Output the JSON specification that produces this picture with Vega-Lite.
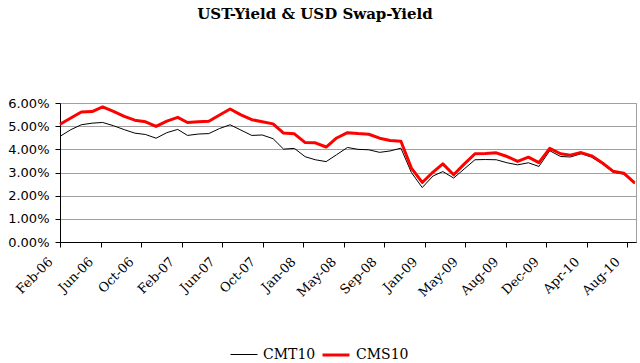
{
  "$schema": "https://vega.github.io/schema/vega-lite/v6.json",
  "width": 576,
  "height": 139,
  "autosize": "none",
  "padding": {"left": 60, "top": 103, "right": 4, "bottom": 121},
  "background": "white",
  "config": {"view": {"stroke": "#a0a0a0", "strokeWidth": 1}},
  "title": {"text": "UST-Yield & USD Swap-Yield", "font": "DejaVu Serif", "fontWeight": "bold", "fontSize": 15, "color": "black", "anchor": "middle", "frame": "group", "baseline": "alphabetic", "offset": 63, "dx": -33},
  "data": {"values": [
    {"date": "2006-02-28", "CMT10": 4.56, "CMS10": 5.08},
    {"date": "2006-03-31", "CMT10": 4.85, "CMS10": 5.35},
    {"date": "2006-04-30", "CMT10": 5.06, "CMS10": 5.61},
    {"date": "2006-05-31", "CMT10": 5.13, "CMS10": 5.63},
    {"date": "2006-06-30", "CMT10": 5.16, "CMS10": 5.83},
    {"date": "2006-07-31", "CMT10": 5.02, "CMS10": 5.64},
    {"date": "2006-08-31", "CMT10": 4.85, "CMS10": 5.42},
    {"date": "2006-09-30", "CMT10": 4.70, "CMS10": 5.26},
    {"date": "2006-10-31", "CMT10": 4.64, "CMS10": 5.19},
    {"date": "2006-11-30", "CMT10": 4.48, "CMS10": 4.99},
    {"date": "2006-12-31", "CMT10": 4.72, "CMS10": 5.22},
    {"date": "2007-01-31", "CMT10": 4.86, "CMS10": 5.38},
    {"date": "2007-02-28", "CMT10": 4.60, "CMS10": 5.16},
    {"date": "2007-03-31", "CMT10": 4.66, "CMS10": 5.19},
    {"date": "2007-04-30", "CMT10": 4.68, "CMS10": 5.21},
    {"date": "2007-05-31", "CMT10": 4.90, "CMS10": 5.48},
    {"date": "2007-06-30", "CMT10": 5.06, "CMS10": 5.74},
    {"date": "2007-07-31", "CMT10": 4.83, "CMS10": 5.49},
    {"date": "2007-08-31", "CMT10": 4.60, "CMS10": 5.28},
    {"date": "2007-09-30", "CMT10": 4.62, "CMS10": 5.19},
    {"date": "2007-10-31", "CMT10": 4.46, "CMS10": 5.10},
    {"date": "2007-11-30", "CMT10": 4.01, "CMS10": 4.70},
    {"date": "2007-12-31", "CMT10": 4.04, "CMS10": 4.67},
    {"date": "2008-01-31", "CMT10": 3.68, "CMS10": 4.29},
    {"date": "2008-02-29", "CMT10": 3.55, "CMS10": 4.28},
    {"date": "2008-03-31", "CMT10": 3.47, "CMS10": 4.10},
    {"date": "2008-04-30", "CMT10": 3.77, "CMS10": 4.49},
    {"date": "2008-05-31", "CMT10": 4.08, "CMS10": 4.72},
    {"date": "2008-06-30", "CMT10": 4.00, "CMS10": 4.68},
    {"date": "2008-07-31", "CMT10": 3.98, "CMS10": 4.65},
    {"date": "2008-08-31", "CMT10": 3.87, "CMS10": 4.48},
    {"date": "2008-09-30", "CMT10": 3.93, "CMS10": 4.38},
    {"date": "2008-10-31", "CMT10": 4.05, "CMS10": 4.35},
    {"date": "2008-11-30", "CMT10": 3.00, "CMS10": 3.19},
    {"date": "2008-12-31", "CMT10": 2.35, "CMS10": 2.57},
    {"date": "2009-01-31", "CMT10": 2.85, "CMS10": 3.02},
    {"date": "2009-02-28", "CMT10": 3.04, "CMS10": 3.37},
    {"date": "2009-03-31", "CMT10": 2.76, "CMS10": 2.90},
    {"date": "2009-04-30", "CMT10": 3.15, "CMS10": 3.36},
    {"date": "2009-05-31", "CMT10": 3.55, "CMS10": 3.81},
    {"date": "2009-06-30", "CMT10": 3.56, "CMS10": 3.82},
    {"date": "2009-07-31", "CMT10": 3.55, "CMS10": 3.85},
    {"date": "2009-08-31", "CMT10": 3.42, "CMS10": 3.69},
    {"date": "2009-09-30", "CMT10": 3.33, "CMS10": 3.48},
    {"date": "2009-10-31", "CMT10": 3.42, "CMS10": 3.66},
    {"date": "2009-11-30", "CMT10": 3.26, "CMS10": 3.43},
    {"date": "2009-12-31", "CMT10": 3.94, "CMS10": 4.04},
    {"date": "2010-01-31", "CMT10": 3.69, "CMS10": 3.81},
    {"date": "2010-02-28", "CMT10": 3.67, "CMS10": 3.75},
    {"date": "2010-03-31", "CMT10": 3.81, "CMS10": 3.86},
    {"date": "2010-04-30", "CMT10": 3.66, "CMS10": 3.72},
    {"date": "2010-05-31", "CMT10": 3.37, "CMS10": 3.41},
    {"date": "2010-06-30", "CMT10": 3.01, "CMS10": 3.06},
    {"date": "2010-07-31", "CMT10": 2.93, "CMS10": 2.97},
    {"date": "2010-08-31", "CMT10": 2.52, "CMS10": 2.55}
  ]},
  "transform": [{"fold": ["CMT10", "CMS10"], "as": ["series", "value"]}],
  "mark": {"type": "line", "interpolate": "linear", "strokeJoin": "round"},
  "encoding": {
    "x": {
      "field": "date", "type": "temporal",
      "scale": {"type": "utc", "domain": [{"year": 2006, "month": 2, "date": 28, "utc": true}, {"year": 2010, "month": 9, "date": 4, "utc": true}]},
      "axis": {
        "title": null, "format": "%b-%y", "grid": false,
        "values": [
          {"year": 2006, "month": 2, "date": 28, "utc": true},
          {"year": 2006, "month": 6, "date": 24, "utc": true},
          {"year": 2006, "month": 10, "date": 18, "utc": true},
          {"year": 2007, "month": 2, "date": 11, "utc": true},
          {"year": 2007, "month": 6, "date": 7, "utc": true},
          {"year": 2007, "month": 10, "date": 1, "utc": true},
          {"year": 2008, "month": 1, "date": 25, "utc": true},
          {"year": 2008, "month": 5, "date": 20, "utc": true},
          {"year": 2008, "month": 9, "date": 13, "utc": true},
          {"year": 2009, "month": 1, "date": 7, "utc": true},
          {"year": 2009, "month": 5, "date": 3, "utc": true},
          {"year": 2009, "month": 8, "date": 27, "utc": true},
          {"year": 2009, "month": 12, "date": 21, "utc": true},
          {"year": 2010, "month": 4, "date": 16, "utc": true},
          {"year": 2010, "month": 8, "date": 10, "utc": true}
        ],
        "domainColor": "black", "tickColor": "black", "tickSize": 5,
        "labelAngle": -45, "labelAlign": "right", "labelBaseline": "top",
        "labelFont": "DejaVu Serif", "labelFontSize": 13, "labelColor": "black",
        "labelPadding": 8, "labelOffset": -14, "labelOverlap": false, "labelFlush": false
      }
    },
    "y": {
      "field": "value", "type": "quantitative",
      "scale": {"domain": [0, 6], "nice": false, "zero": true},
      "axis": {
        "title": null, "values": [0, 1, 2, 3, 4, 5, 6],
        "labelExpr": "format(datum.value, '.2f') + '%'",
        "grid": true, "gridColor": "#a0a0a0", "gridWidth": 1,
        "domainColor": "black", "tickColor": "black", "tickSize": 5,
        "labelFont": "DejaVu Sans", "labelFontSize": 13, "labelColor": "black", "labelPadding": 6
      }
    },
    "color": {
      "field": "series", "type": "nominal",
      "scale": {"domain": ["CMT10", "CMS10"], "range": ["black", "#ff0000"]},
      "legend": {
        "title": null, "orient": "none", "direction": "horizontal",
        "legendX": 170, "legendY": 237,
        "symbolType": "stroke", "symbolSize": 729,
        "labelFont": "DejaVu Serif", "labelFontSize": 14, "labelColor": "black",
        "labelOffset": 5, "columnPadding": 0
      }
    },
    "strokeWidth": {
      "field": "series", "type": "nominal",
      "scale": {"domain": ["CMT10", "CMS10"], "range": [1, 3]},
      "legend": {
        "title": null, "orient": "none", "direction": "horizontal",
        "legendX": 170, "legendY": 237,
        "symbolType": "stroke", "symbolSize": 729,
        "labelFont": "DejaVu Serif", "labelFontSize": 14, "labelColor": "black",
        "labelOffset": 5, "columnPadding": 0
      }
    }
  }
}
